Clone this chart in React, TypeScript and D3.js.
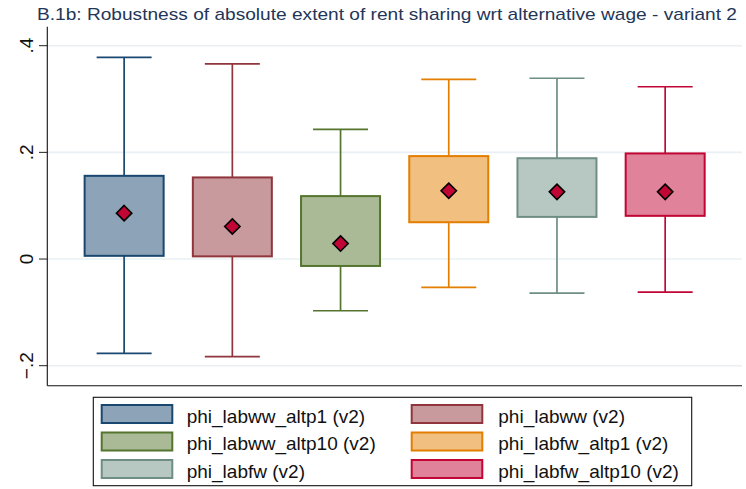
import React from "react";
import * as d3 from "d3";

const title = "B.1b: Robustness of absolute extent of rent sharing wrt alternative wage - variant 2";
const categories = [
  "phi_labww_altp1 (v2)",
  "phi_labww (v2)",
  "phi_labww_altp10 (v2)",
  "phi_labfw_altp1 (v2)",
  "phi_labfw (v2)",
  "phi_labfw_altp10 (v2)",
];
const upperWhisker = [0.378, 0.366, 0.243, 0.337, 0.339, 0.323];
const q3 = [0.156, 0.153, 0.118, 0.193, 0.189, 0.198];
const medians = [0.086, 0.061, 0.029, 0.128, 0.126, 0.126];
const q1 = [0.006, 0.005, -0.013, 0.069, 0.079, 0.081];
const lowerWhisker = [-0.177, -0.183, -0.097, -0.053, -0.064, -0.062];
const yTicks = [-0.2, 0, 0.2, 0.4];
const lineColors = ["#1a476f", "#90353b", "#55752f", "#e37e00", "#6e8e84", "#c10534"];

const W = 746;
const H = 489;
const left = 47.3;
const right = 742;
const top = 26.7;
const bottom = 385.7;

const fmt = (v: number) => (v === 0 ? "0" : d3.format(".1f")(v).replace("0.", "."));

const App = () => {
  const y = d3.scaleLinear().domain([-0.2, 0.4]).range([365.7, 45.7]);
  const x = d3.scalePoint<string>().domain(categories).range([left, right]).padding(0.71);
  const boxW = 79;
  const capW = 55;
  const fillColor = (c: string) => d3.interpolateRgb(c, "#ffffff")(0.5);
  const diamond = d3.symbol(d3.symbolDiamond2, 150)()!;
  const font = "'Liberation Sans', Arial, sans-serif";

  return (
    <svg width={W} height={H} style={{ position: "absolute", left: 0, top: 0, background: "#fff" }} fontFamily={font}>
      <rect width={W} height={H} fill="#fff" />
      <text x={37} y={19.5} fontSize={17} fill="#243657" textLength={700} lengthAdjust="spacingAndGlyphs">{title}</text>

      {yTicks.map(t => (
        <g key={t}>
          <line x1={left} x2={right} y1={y(t)} y2={y(t)} stroke="#eaf0f4" strokeWidth={1.6} />
          <line x1={39} x2={left} y1={y(t)} y2={y(t)} stroke="#222" strokeWidth={1} />
          <text transform={`translate(33,${y(t)}) rotate(-90)`} textAnchor="middle" fontSize={19} fill="#111">
            {fmt(t)}
          </text>
        </g>
      ))}
      <line x1={left} x2={left} y1={top} y2={bottom} stroke="#111" strokeWidth={1.1} />
      <line x1={left} x2={right} y1={bottom} y2={bottom} stroke="#111" strokeWidth={1.1} />

      {categories.map((c, i) => {
        const cx = x(c)!;
        const col = lineColors[i];
        return (
          <g key={c} stroke={col} strokeWidth={1.7}>
            <line x1={cx} x2={cx} y1={y(upperWhisker[i])} y2={y(q3[i])} />
            <line x1={cx} x2={cx} y1={y(q1[i])} y2={y(lowerWhisker[i])} />
            <line x1={cx - capW / 2} x2={cx + capW / 2} y1={y(upperWhisker[i])} y2={y(upperWhisker[i])} />
            <line x1={cx - capW / 2} x2={cx + capW / 2} y1={y(lowerWhisker[i])} y2={y(lowerWhisker[i])} />
            <rect x={cx - boxW / 2} y={y(q3[i])} width={boxW} height={y(q1[i]) - y(q3[i])} fill={fillColor(col)} strokeWidth={2} />
            <path d={diamond} transform={`translate(${cx},${y(medians[i])})`} fill="#c10534" stroke="#000" strokeWidth={1.6} />
          </g>
        );
      })}

      <rect x={93.3} y={397.3} width={598.4} height={88.4} fill="#fff" stroke="#111" strokeWidth={1.1} />
      {categories.map((c, i) => {
        const colIdx = i % 2;
        const row = Math.floor(i / 2);
        const sx = colIdx === 0 ? 101.7 : 411.7;
        const tx = colIdx === 0 ? 186.7 : 498.3;
        const sy = 405 + row * 27.5;
        const col = lineColors[i];
        return (
          <g key={c}>
            <rect x={sx} y={sy} width={70.6} height={18} fill={fillColor(col)} stroke={col} strokeWidth={2} />
            <text x={tx} y={sy + 17.5} fontSize={19} fill="#111">{c}</text>
          </g>
        );
      })}
    </svg>
  );
};

export default App;
